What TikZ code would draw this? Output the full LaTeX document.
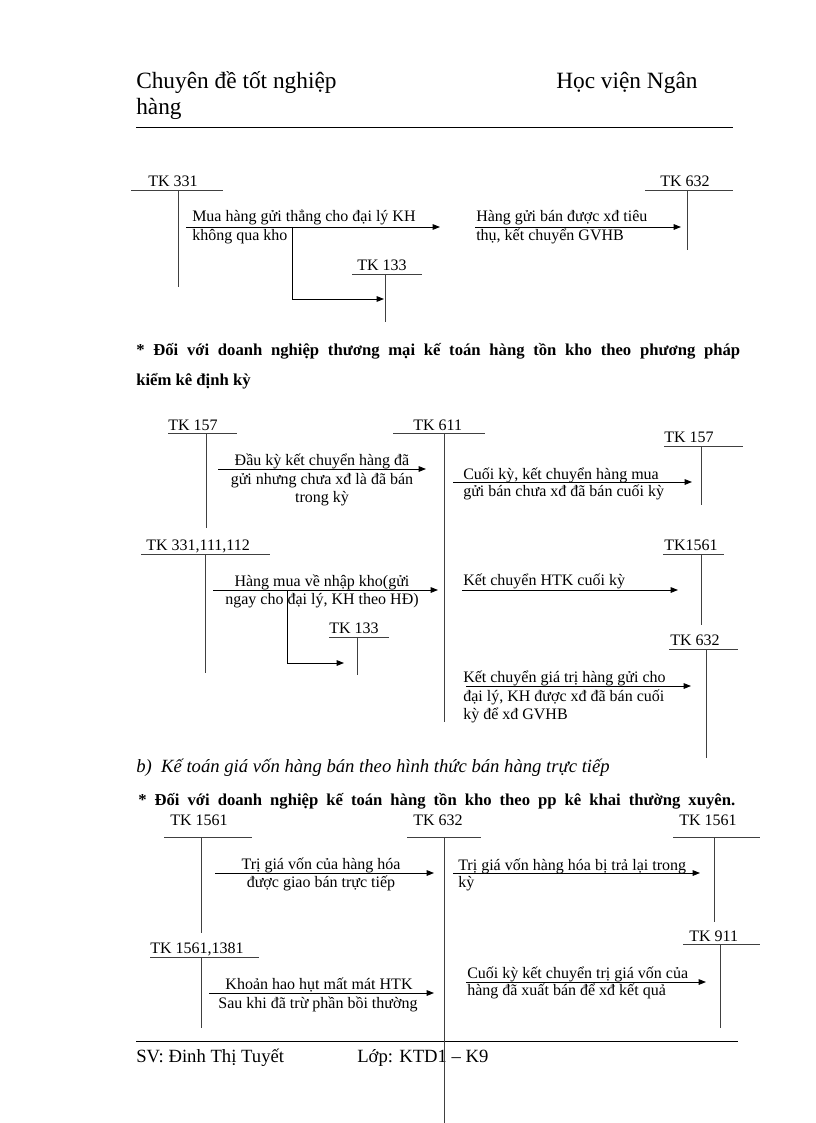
\documentclass[tikz,border=0pt]{standalone}
\usepackage{fontspec}
\setmainfont{Liberation Serif}
\usetikzlibrary{arrows.meta}
\begin{document}
\begin{tikzpicture}[x=0.75pt, y=-0.75pt, >={Triangle[length=5.5pt,width=4.2pt]}]
		\tikzset{head/.style={anchor=base west, inner sep=0pt, font=\fontsize{17.5}{20}\selectfont}}
		\tikzset{foot/.style={anchor=base west, inner sep=0pt, font=\fontsize{14}{16}\selectfont}}
		\tikzset{sect/.style={anchor=base west, inner sep=0pt, font=\bfseries\fontsize{12.5}{15}\selectfont}}
		\tikzset{tk/.style={anchor=base west, inner sep=0pt, font=\fontsize{12}{13.5}\selectfont}}
		\tikzset{ds/.style={anchor=base west, inner sep=0pt, font=\fontsize{12}{13.5}\selectfont}}
		\tikzset{dc/.style={anchor=base, inner sep=0pt, font=\fontsize{12}{13.5}\selectfont}}
		\tikzset{tl/.style={line width=0.7pt, black!75}}
		\tikzset{ar/.style={->, line width=0.7pt}}
		\useasboundingbox (0,0) rectangle (816,1123);
		% page head and foot
		\node[head] (hd1) at (136,89) {Chuyên đề tốt nghiệp};
		\node[head] (hd2) at (556,89) {Học viện Ngân};
		\node[head] (hd3) at (136,115) {hàng};
		\draw[line width=0.7pt] (136,127) -- (733,127);
		\draw[line width=0.7pt] (136,1041) -- (738,1041);
		\node[foot] (ft1) at (136,1062) {SV: Đinh Thị Tuyết};
		\node[foot] (ft2) at (357,1062) {Lớp: KTD1 – K9};
		% diagram 1: TK 331
		\node[tk] (a331) at (148,187) {TK 331};
		\draw[tl] (131,190) -- (223,190) (178,190) -- (178,287);
		\node[tk] (a133) at (357,270) {TK 133};
		\draw[tl] (352,274) -- (422,274) (385,274) -- (385,322);
		\node[tk] (a632) at (660,187) {TK 632};
		\draw[tl] (645,190) -- (733,190) (687,190) -- (687,250);
		\coordinate (p1s) at (186,227); \coordinate (p1e) at (440,227);
		\coordinate (p1k) at (292,227); \coordinate (p1c) at (384,299);
		\coordinate (p2s) at (475,227); \coordinate (p2e) at (681,227);
		\draw[ar] (p1s) -- (p1e);
		\draw[ar] (p1k) |- (p1c);
		\draw[ar] (p2s) -- (p2e);
		\node[ds] (t1a) at (192,222) {Mua hàng gửi thẳng cho đại lý KH};
		\node[ds] (t1b) at (192,240) {không qua kho};
		\node[ds] (t2a) at (476,222) {Hàng gửi bán được xđ tiêu};
		\node[ds] (t2b) at (476,240) {thụ, kết chuyển GVHB};
		% section head
		\node[sect] (s1a) at (136,355) {\makebox[453pt][s]{* Đối với doanh nghiệp thương mại kế toán hàng tồn kho theo phương pháp}};
		\node[sect] (s1b) at (136,385) {kiểm kê định kỳ};
		% diagram 2
		\node[tk] (b157) at (168,430) {TK 157};
		\draw[tl] (168,433) -- (237,433) (206,433) -- (206,528);
		\node[tk] (b611) at (413,430) {TK 611};
		\draw[tl] (393,433) -- (485,433) (444,433) -- (444,722);
		\node[tk] (b157r) at (664,442) {TK 157};
		\draw[tl] (664,446) -- (743,446) (701,446) -- (701,505);
		\node[tk] (b331) at (146,550) {TK 331,111,112};
		\draw[tl] (141,554) -- (270,554) (205,554) -- (205,673);
		\node[tk] (b133) at (329,633) {TK 133};
		\draw[tl] (329,637) -- (389,637) (357,637) -- (357,675);
		\node[tk] (b1561) at (664,550) {TK1561};
		\draw[tl] (663,554) -- (724,554) (701,554) -- (701,625);
		\node[tk] (b632) at (670,645) {TK 632};
		\draw[tl] (669,649) -- (738,649) (706,649) -- (706,758);
		\coordinate (q1s) at (218,469); \coordinate (q1e) at (426,469);
		\coordinate (q2s) at (453,482); \coordinate (q2e) at (692,482);
		\coordinate (q3s) at (213,590); \coordinate (q3e) at (438,590);
		\coordinate (q3k) at (287,590); \coordinate (q3c) at (344,663);
		\coordinate (q4s) at (462,590); \coordinate (q4e) at (678,590);
		\coordinate (q5s) at (466,686); \coordinate (q5e) at (691,686);
		\draw[ar] (q1s) -- (q1e);
		\draw[ar] (q2s) -- (q2e);
		\draw[ar] (q3s) -- (q3e);
		\draw[ar] (q3k) |- (q3c);
		\draw[ar] (q4s) -- (q4e);
		\draw[ar] (q5s) -- (q5e);
		\node[dc] (u1a) at (322,465) {Đầu kỳ kết chuyển hàng đã};
		\node[dc] (u1b) at (322,484) {gửi nhưng chưa xđ là đã bán};
		\node[dc] (u1c) at (322,502) {trong kỳ};
		\node[ds] (u2a) at (463,479) {Cuối kỳ, kết chuyển hàng mua};
		\node[ds] (u2b) at (463,496) {gửi bán chưa xđ đã bán cuối kỳ};
		\node[dc] (u3a) at (322,586) {Hàng mua về nhập kho(gửi};
		\node[dc] (u3b) at (322,604) {ngay cho đại lý, KH theo HĐ)};
		\node[ds] (u4a) at (463,585) {Kết chuyển HTK cuối kỳ};
		\node[ds] (u5a) at (463,682) {Kết chuyển giá trị hàng gửi cho};
		\node[ds] (u5b) at (463,701) {đại lý, KH được xđ đã bán cuối};
		\node[ds] (u5c) at (463,719) {kỳ để xđ GVHB};
		% section b
		\node[anchor=base west, inner sep=0pt, font=\itshape\fontsize{14}{16}\selectfont] (s2) at (136,772) {b)\ \ Kế toán giá vốn hàng bán theo hình thức bán hàng trực tiếp};
		\node[sect] (s3) at (138,805) {\makebox[447.75pt][s]{* Đối với doanh nghiệp kế toán hàng tồn kho theo pp kê khai thường xuyên.}};
		% diagram 3
		\node[tk] (c1561) at (170,825) {TK 1561};
		\draw[tl] (164,837) -- (252,837) (201,837) -- (201,933);
		\node[tk] (c632) at (413,825) {TK 632};
		\draw[tl] (407,837) -- (481,837) (444,837) -- (444,1123);
		\node[tk] (c1561r) at (679,825) {TK 1561};
		\draw[tl] (673,837) -- (760,837) (714,837) -- (714,922);
		\node[tk] (c1381) at (150,953) {TK 1561,1381};
		\draw[tl] (150,957) -- (259,957) (201,957) -- (201,1028);
		\node[tk] (c911) at (689,941) {TK 911};
		\draw[tl] (683,944) -- (760,944) (720,944) -- (720,1028);
		\coordinate (r1s) at (215,873); \coordinate (r1e) at (434,873);
		\coordinate (r2s) at (453,873); \coordinate (r2e) at (700,873);
		\coordinate (r3s) at (209,993); \coordinate (r3e) at (434,993);
		\coordinate (r4s) at (466,982); \coordinate (r4e) at (706,982);
		\draw[ar] (r1s) -- (r1e);
		\draw[ar] (r2s) -- (r2e);
		\draw[ar] (r3s) -- (r3e);
		\draw[ar] (r4s) -- (r4e);
		\node[dc] (v1a) at (321,869) {Trị giá vốn của hàng hóa};
		\node[dc] (v1b) at (321,887) {được giao bán trực tiếp};
		\node[ds] (v2a) at (458,870) {Trị giá vốn hàng hóa bị trả lại trong};
		\node[ds] (v2b) at (458,887) {kỳ};
		\node[dc] (v3a) at (319,989) {Khoản hao hụt mất mát HTK};
		\node[dc] (v3b) at (318,1008) {Sau khi đã trừ phần bồi thường};
		\node[ds] (v4a) at (467,978) {Cuối kỳ kết chuyển trị giá vốn của};
		\node[ds] (v4b) at (467,995) {hàng đã xuất bán để xđ kết quả};
	\end{tikzpicture}
\end{document}
